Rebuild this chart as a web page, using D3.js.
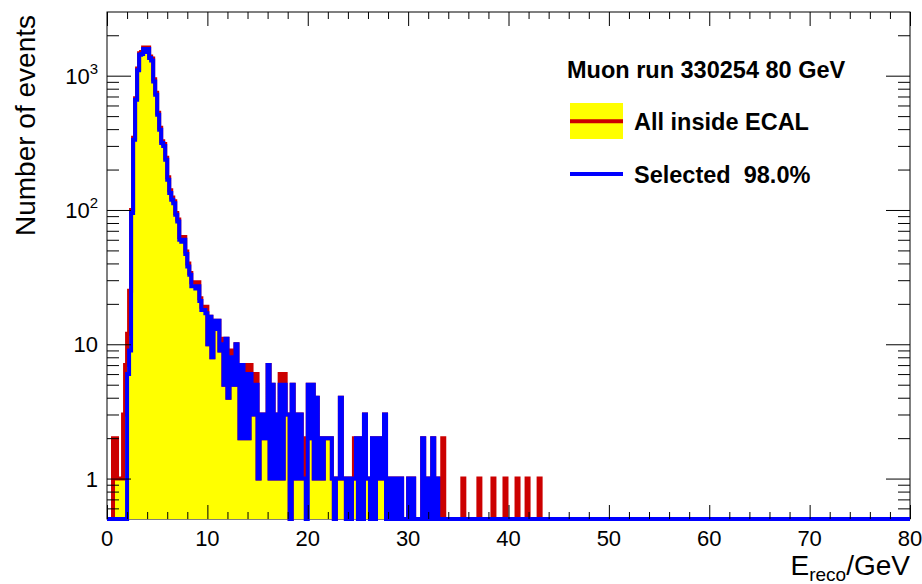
<!DOCTYPE html>
<html>
<head>
<meta charset="utf-8">
<script src="https://cdn.jsdelivr.net/npm/d3@7"></script>
<style>
  body { margin: 0; background: #ffffff; }
  svg { display: block; font-family: "Liberation Sans", Arial, Helvetica, sans-serif; }
</style>
</head>
<body>
<svg id="chart" width="922" height="584"></svg>
<script>
// Reconstructed energy of muons in the ECAL, 0.2 GeV bins starting at 0 GeV.
// Bins after the last listed entry are empty.
const binWidth = 0.2;
const xDomain = [0, 80];
const yDomain = [0.5, 2980];

// All events inside the ECAL (yellow fill, red outline)
const allInside = [
  0, 0, 0, 2, 2, 1, 1, 1, 3, 7,
  12, 25, 100, 345, 680, 1130, 1470, 1500, 1620, 1550,
  1620, 1390, 1340, 940, 745, 530, 410, 325, 310, 245,
  175, 140, 124, 116, 95, 85, 63, 62, 63, 49,
  40, 34, 29, 29, 28, 29, 22, 19, 19, 19,
  10, 16, 8, 15, 13, 15, 9, 11, 5, 11,
  4, 9, 9, 5, 10, 5, 2, 7, 2, 7,
  2, 7, 6, 3, 6, 1, 2, 3, 2, 3,
  7, 1, 5, 1, 3, 1, 6, 1, 6, 3,
  3, 0, 5, 1, 3, 1, 3, 1, 1, 2,
  5, 2, 5, 1, 4, 1, 2, 1, 2, 2,
  2, 2, 1, 0, 1, 1, 4, 1, 1, 0,
  1, 0, 1, 2, 2, 0, 2, 0, 3, 1,
  1, 0, 2, 0, 2, 2, 1, 1, 3, 0,
  1, 0, 1, 0, 1, 0, 1, 0, 0, 0,
  1, 0, 1, 0, 0, 0, 0, 2, 0, 1,
  0, 0, 2, 0, 1, 0, 0, 2, 0, 0,
  0, 0, 0, 0, 0, 0, 0, 1, 0, 0,
  0, 0, 0, 0, 0, 1, 0, 0, 0, 0,
  0, 0, 1, 0, 0, 0, 0, 0, 1, 0,
  0, 0, 0, 0, 1, 0, 0, 0, 0, 1,
  0, 0, 0, 0, 0, 1
];

// Selected events (blue outline)
const selected = [
  0, 0, 0, 0, 0, 0, 0, 0, 0, 0,
  6, 9, 95, 334, 663, 1100, 1430, 1450, 1580, 1500,
  1580, 1352, 1300, 907, 722, 512, 396, 315, 300, 237,
  168, 134, 119, 112, 92, 82, 60, 58, 60, 47,
  38, 33, 27, 27, 26, 27, 21, 18, 18, 17,
  10, 16, 8, 15, 13, 15, 9, 10, 5, 11,
  4, 8, 8, 5, 10, 5, 2, 7, 2, 6,
  2, 6, 5, 3, 5, 1, 2, 3, 2, 3,
  7, 1, 5, 1, 3, 1, 5, 1, 5, 3,
  3, 0, 5, 1, 3, 1, 3, 1, 1, 0,
  5, 2, 5, 1, 4, 1, 2, 1, 2, 2,
  2, 2, 1, 0, 1, 1, 4, 1, 1, 0,
  1, 0, 1, 1, 2, 0, 2, 0, 3, 1,
  1, 0, 2, 0, 2, 2, 1, 1, 3, 0,
  1, 0, 1, 0, 1, 0, 1, 0, 0, 0,
  1, 0, 1, 0, 0, 0, 0, 2, 0, 1,
  0, 0, 2, 0, 1, 0
];

const xMajorTicks = [0, 10, 20, 30, 40, 50, 60, 70, 80];
const xMinorTicks = [2, 4, 6, 8, 12, 14, 16, 18, 22, 24, 26, 28, 32, 34, 36, 38,
                     42, 44, 46, 48, 52, 54, 56, 58, 62, 64, 66, 68, 72, 74, 76, 78];
const yMajorTicks = [1, 10, 100, 1000];
const yTickBase = ["1", "10", "10", "10"];
const yTickExponent = ["", "", "2", "3"];
const yMinorTicks = [0.6, 0.7, 0.8, 0.9, 2, 3, 4, 5, 6, 7, 8, 9,
                     20, 30, 40, 50, 60, 70, 80, 90, 200, 300, 400, 500, 600, 700, 800, 900, 2000];

const legendTitle = "Muon run 330254 80 GeV";
const legendLabels = ["All inside ECAL", "Selected  98.0%"];

const colors = { fill: "#ffff00", all: "#cc0000", selected: "#0000ff" };

const frame = { left: 107, right: 910, top: 12, bottom: 519 };
const histLineWidth = 4;

const svg = d3.select("#chart");

const x = d3.scaleLinear().domain(xDomain).range([frame.left, frame.right]);
const y = d3.scaleLog().domain(yDomain).range([frame.bottom, frame.top]);

// Empty bins sit on the lower edge of the log axis
function stepPoints(counts) {
  const pts = [[xDomain[0], yDomain[0]]];
  counts.forEach((c, i) => {
    const v = c > 0 ? c : yDomain[0];
    pts.push([i * binWidth, v], [(i + 1) * binWidth, v]);
  });
  pts.push([counts.length * binWidth, yDomain[0]], [xDomain[1], yDomain[0]]);
  return pts;
}

const line = d3.line().x(d => x(d[0])).y(d => y(d[1]));
const area = d3.area().x(d => x(d[0])).y0(y(yDomain[0])).y1(d => y(d[1]));

// frame
svg.append("rect")
  .attr("x", frame.left).attr("y", frame.top)
  .attr("width", frame.right - frame.left).attr("height", frame.bottom - frame.top)
  .attr("fill", "none").attr("stroke", "#000").attr("stroke-width", 1);

const allPts = stepPoints(allInside);
const selPts = stepPoints(selected);

svg.append("path").datum(allPts).attr("d", area).attr("fill", colors.fill);
svg.append("path").datum(allPts).attr("d", line)
  .attr("fill", "none").attr("stroke", colors.all).attr("stroke-width", histLineWidth)
  .attr("stroke-linejoin", "miter").attr("stroke-miterlimit", 2);
svg.append("path").datum(selPts).attr("d", line)
  .attr("fill", "none").attr("stroke", colors.selected).attr("stroke-width", histLineWidth)
  .attr("stroke-linejoin", "miter").attr("stroke-miterlimit", 2);

// axes: ticks on all four sides
function tickStyle(g) {
  g.select(".domain").remove();
  g.selectAll(".tick line").attr("stroke", "#000").attr("stroke-width", 1);
  g.selectAll(".tick text").remove();
}
svg.append("g").attr("transform", `translate(0,${frame.bottom})`)
  .call(d3.axisTop(x).tickValues(xMajorTicks).tickSize(14)).call(tickStyle);
svg.append("g").attr("transform", `translate(0,${frame.bottom})`)
  .call(d3.axisTop(x).tickValues(xMinorTicks).tickSize(7)).call(tickStyle);
svg.append("g").attr("transform", `translate(0,${frame.top})`)
  .call(d3.axisBottom(x).tickValues(xMajorTicks).tickSize(14)).call(tickStyle);
svg.append("g").attr("transform", `translate(0,${frame.top})`)
  .call(d3.axisBottom(x).tickValues(xMinorTicks).tickSize(7)).call(tickStyle);
svg.append("g").attr("transform", `translate(${frame.left},0)`)
  .call(d3.axisRight(y).tickValues(yMajorTicks).tickSize(24)).call(tickStyle);
svg.append("g").attr("transform", `translate(${frame.left},0)`)
  .call(d3.axisRight(y).tickValues(yMinorTicks).tickSize(12)).call(tickStyle);
svg.append("g").attr("transform", `translate(${frame.right},0)`)
  .call(d3.axisLeft(y).tickValues(yMajorTicks).tickSize(24)).call(tickStyle);
svg.append("g").attr("transform", `translate(${frame.right},0)`)
  .call(d3.axisLeft(y).tickValues(yMinorTicks).tickSize(12)).call(tickStyle);

// x tick labels
svg.append("g").selectAll("text").data(xMajorTicks).join("text")
  .attr("x", d => x(d)).attr("y", frame.bottom + 27)
  .attr("text-anchor", "middle").attr("font-size", 22).attr("fill", "#000")
  .text(d => d);

// y tick labels with powers of ten
const yLab = svg.append("g").selectAll("text").data(yMajorTicks).join("text")
  .attr("x", frame.left - 9).attr("y", d => y(d) + 8)
  .attr("text-anchor", "end").attr("font-size", 22).attr("fill", "#000");
yLab.append("tspan").text((d, i) => yTickBase[i]);
yLab.append("tspan").attr("font-size", 15).attr("dy", -10).text((d, i) => yTickExponent[i]);

// axis titles
svg.append("text")
  .attr("transform", `translate(35,${frame.top + 3}) rotate(-90)`)
  .attr("text-anchor", "end").attr("font-size", 28).attr("fill", "#000")
  .text("Number of events");

const xt = svg.append("text").attr("x", frame.right).attr("y", 575)
  .attr("text-anchor", "end").attr("font-size", 28).attr("fill", "#000");
xt.append("tspan").text("E");
xt.append("tspan").attr("font-size", 19).attr("dy", 6).text("reco");
xt.append("tspan").attr("dy", -6).text("/GeV");

// legend
const lg = svg.append("g").attr("font-weight", "bold").attr("fill", "#000");
lg.append("text").attr("x", 567).attr("y", 78).attr("font-size", 23.5).text(legendTitle);
lg.append("rect").attr("x", 570).attr("y", 103).attr("width", 53).attr("height", 36)
  .attr("fill", colors.fill);
lg.append("line").attr("x1", 570).attr("x2", 623).attr("y1", 121.3).attr("y2", 121.3)
  .attr("stroke", colors.all).attr("stroke-width", 4);
lg.append("line").attr("x1", 570).attr("x2", 623).attr("y1", 174).attr("y2", 174)
  .attr("stroke", colors.selected).attr("stroke-width", 4);
lg.append("text").attr("x", 634).attr("y", 130).attr("font-size", 23.5).text(legendLabels[0]);
lg.append("text").attr("x", 634).attr("y", 183).attr("font-size", 23.5)
  .style("white-space", "pre").text(legendLabels[1]);
</script>
</body>
</html>
